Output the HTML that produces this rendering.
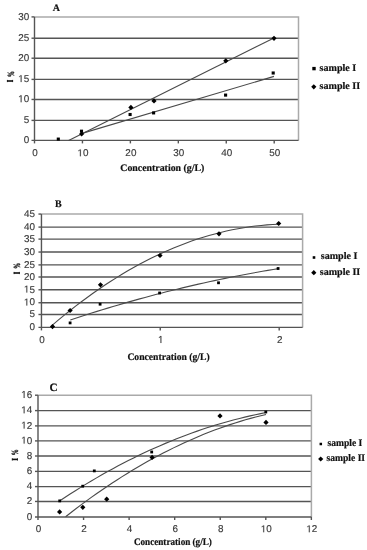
<!DOCTYPE html>
<html><head><meta charset="utf-8"><style>
html,body{margin:0;padding:0;background:#fff;width:367px;height:550px;overflow:hidden}
svg{display:block;will-change:transform}
text{text-rendering:geometricPrecision}
.t{font-family:"Liberation Sans",sans-serif;font-size:9.9px;fill:#3a3a3a;stroke:#3a3a3a;stroke-width:0.15px}
.b{font-family:"Liberation Serif",serif;font-weight:bold;font-size:10px;fill:#111;stroke:#111;stroke-width:0.2px}
</style></head><body>
<svg width="367" height="550" viewBox="0 0 367 550">
<rect width="367" height="550" fill="#fff"/>

<line x1="34.5" y1="120.4" x2="298.5" y2="120.4" stroke="#555" stroke-width="1.4"/>
<line x1="34.5" y1="99.45" x2="298.5" y2="99.45" stroke="#555" stroke-width="1.4"/>
<line x1="34.5" y1="79.4" x2="298.5" y2="79.4" stroke="#555" stroke-width="1.4"/>
<line x1="34.5" y1="58.2" x2="298.5" y2="58.2" stroke="#555" stroke-width="1.4"/>
<line x1="34.5" y1="38.2" x2="298.5" y2="38.2" stroke="#555" stroke-width="1.4"/>
<polyline points="34.5,16.9 298.5,16.9 298.5,140.4" fill="none" stroke="#aaa" stroke-width="1.5"/>
<line x1="34.5" y1="16.9" x2="34.5" y2="143.4" stroke="#555" stroke-width="1.4"/>
<line x1="31.5" y1="140.4" x2="298.5" y2="140.4" stroke="#555" stroke-width="1.4"/>
<text x="23.69" y="143.1" class="t">0</text>
<line x1="31.5" y1="120.4" x2="34.5" y2="120.4" stroke="#555" stroke-width="1.4"/>
<text x="23.69" y="123.1" class="t">5</text>
<line x1="31.5" y1="99.45" x2="34.5" y2="99.45" stroke="#555" stroke-width="1.4"/>
<path transform="translate(18.19,102.15) scale(0.004834,-0.004834)" d="M515 0V1237L197 1010V1180L530 1409H696V0Z" fill="#3a3a3a" stroke="#3a3a3a" stroke-width="31.0"/><text x="23.69" y="102.15" class="t">0</text>
<line x1="31.5" y1="79.4" x2="34.5" y2="79.4" stroke="#555" stroke-width="1.4"/>
<path transform="translate(18.19,82.1) scale(0.004834,-0.004834)" d="M515 0V1237L197 1010V1180L530 1409H696V0Z" fill="#3a3a3a" stroke="#3a3a3a" stroke-width="31.0"/><text x="23.69" y="82.1" class="t">5</text>
<line x1="31.5" y1="58.2" x2="34.5" y2="58.2" stroke="#555" stroke-width="1.4"/>
<text x="18.19" y="60.9" class="t">2</text><text x="23.69" y="60.9" class="t">0</text>
<line x1="31.5" y1="38.2" x2="34.5" y2="38.2" stroke="#555" stroke-width="1.4"/>
<text x="18.19" y="40.9" class="t">2</text><text x="23.69" y="40.9" class="t">5</text>
<line x1="31.5" y1="16.9" x2="34.5" y2="16.9" stroke="#555" stroke-width="1.4"/>
<text x="18.19" y="19.6" class="t">3</text><text x="23.69" y="19.6" class="t">0</text>
<text x="32.25" y="156.2" class="t">0</text>
<line x1="82.44" y1="140.4" x2="82.44" y2="143.4" stroke="#555" stroke-width="1.4"/>
<path transform="translate(77.43,156.2) scale(0.004834,-0.004834)" d="M515 0V1237L197 1010V1180L530 1409H696V0Z" fill="#3a3a3a" stroke="#3a3a3a" stroke-width="31.0"/><text x="82.94" y="156.2" class="t">0</text>
<line x1="130.38" y1="140.4" x2="130.38" y2="143.4" stroke="#555" stroke-width="1.4"/>
<text x="125.37" y="156.2" class="t">2</text><text x="130.88" y="156.2" class="t">0</text>
<line x1="178.32" y1="140.4" x2="178.32" y2="143.4" stroke="#555" stroke-width="1.4"/>
<text x="173.31" y="156.2" class="t">3</text><text x="178.82" y="156.2" class="t">0</text>
<line x1="226.26" y1="140.4" x2="226.26" y2="143.4" stroke="#555" stroke-width="1.4"/>
<text x="221.25" y="156.2" class="t">4</text><text x="226.76" y="156.2" class="t">0</text>
<line x1="274.2" y1="140.4" x2="274.2" y2="143.4" stroke="#555" stroke-width="1.4"/>
<text x="269.19" y="156.2" class="t">5</text><text x="274.7" y="156.2" class="t">0</text>
<text x="52.8" y="10.8" class="b" style="font-size:10px">A</text>
<text x="120.3" y="171.4" class="b" textLength="84" lengthAdjust="spacingAndGlyphs">Concentration (g/L)</text>
<rect x="7.2" y="80.2" width="5.6" height="1.6" fill="#111"/>
<rect x="6.9" y="79.9" width="0.9" height="2.2" fill="#111"/>
<rect x="12.2" y="79.9" width="0.9" height="2.2" fill="#111"/>
<text transform="translate(14,74) rotate(-90) scale(0.62,1)" text-anchor="middle" class="b" style="font-size:9.5px;stroke:#111;stroke-width:0.35px">%</text>
<rect x="312.3" y="66.9" width="3.4" height="3.4" fill="#000"/>
<text x="319.6" y="70.8" class="b" textLength="36.6" lengthAdjust="spacingAndGlyphs">sample I</text>
<path d="M313.8 84.2L316.4 86.8L313.8 89.4L311.2 86.8Z" fill="#000"/>
<text x="319.6" y="88.6" class="b" textLength="40.5" lengthAdjust="spacingAndGlyphs">sample II</text>
<polyline points="81.2,133.6 274,76.4" fill="none" stroke="#4a4a4a" stroke-width="1.1"/>
<polyline points="68.6,140.4 274,38" fill="none" stroke="#4a4a4a" stroke-width="1.1"/>
<rect x="56.75" y="137.55" width="3.1" height="3.1" fill="#000"/>
<rect x="79.95" y="129.65" width="3.1" height="3.1" fill="#000"/>
<rect x="128.55" y="112.95" width="3.1" height="3.1" fill="#000"/>
<rect x="152.05" y="111.35" width="3.1" height="3.1" fill="#000"/>
<rect x="224.05" y="93.55" width="3.1" height="3.1" fill="#000"/>
<rect x="271.65" y="71.45" width="3.1" height="3.1" fill="#000"/>
<path d="M81.6 131.4L84.2 134L81.6 136.6L79 134Z" fill="#000"/>
<path d="M130.9 104.8L133.5 107.4L130.9 110L128.3 107.4Z" fill="#000"/>
<path d="M154 98.3L156.6 100.9L154 103.5L151.4 100.9Z" fill="#000"/>
<path d="M225.8 58.2L228.4 60.8L225.8 63.4L223.2 60.8Z" fill="#000"/>
<path d="M274 35.7L276.6 38.3L274 40.9L271.4 38.3Z" fill="#000"/>
<line x1="41.45" y1="314.5" x2="302.6" y2="314.5" stroke="#555" stroke-width="1.4"/>
<line x1="41.45" y1="302.74" x2="302.6" y2="302.74" stroke="#555" stroke-width="1.4"/>
<line x1="41.45" y1="289.8" x2="302.6" y2="289.8" stroke="#555" stroke-width="1.4"/>
<line x1="41.45" y1="277" x2="302.6" y2="277" stroke="#555" stroke-width="1.4"/>
<line x1="41.45" y1="264.9" x2="302.6" y2="264.9" stroke="#555" stroke-width="1.4"/>
<line x1="41.45" y1="252.04" x2="302.6" y2="252.04" stroke="#555" stroke-width="1.4"/>
<line x1="41.45" y1="239.1" x2="302.6" y2="239.1" stroke="#555" stroke-width="1.4"/>
<line x1="41.45" y1="227.1" x2="302.6" y2="227.1" stroke="#555" stroke-width="1.4"/>
<polyline points="41.45,214.06 302.6,214.06 302.6,327.4" fill="none" stroke="#aaa" stroke-width="1.5"/>
<line x1="41.45" y1="214.06" x2="41.45" y2="330.4" stroke="#555" stroke-width="1.4"/>
<line x1="38.45" y1="327.4" x2="302.6" y2="327.4" stroke="#555" stroke-width="1.4"/>
<text x="29.39" y="330.1" class="t">0</text>
<line x1="38.45" y1="314.5" x2="41.45" y2="314.5" stroke="#555" stroke-width="1.4"/>
<text x="29.39" y="317.2" class="t">5</text>
<line x1="38.45" y1="302.74" x2="41.45" y2="302.74" stroke="#555" stroke-width="1.4"/>
<path transform="translate(23.89,305.44) scale(0.004834,-0.004834)" d="M515 0V1237L197 1010V1180L530 1409H696V0Z" fill="#3a3a3a" stroke="#3a3a3a" stroke-width="31.0"/><text x="29.39" y="305.44" class="t">0</text>
<line x1="38.45" y1="289.8" x2="41.45" y2="289.8" stroke="#555" stroke-width="1.4"/>
<path transform="translate(23.89,292.5) scale(0.004834,-0.004834)" d="M515 0V1237L197 1010V1180L530 1409H696V0Z" fill="#3a3a3a" stroke="#3a3a3a" stroke-width="31.0"/><text x="29.39" y="292.5" class="t">5</text>
<line x1="38.45" y1="277" x2="41.45" y2="277" stroke="#555" stroke-width="1.4"/>
<text x="23.89" y="279.7" class="t">2</text><text x="29.39" y="279.7" class="t">0</text>
<line x1="38.45" y1="264.9" x2="41.45" y2="264.9" stroke="#555" stroke-width="1.4"/>
<text x="23.89" y="267.6" class="t">2</text><text x="29.39" y="267.6" class="t">5</text>
<line x1="38.45" y1="252.04" x2="41.45" y2="252.04" stroke="#555" stroke-width="1.4"/>
<text x="23.89" y="254.74" class="t">3</text><text x="29.39" y="254.74" class="t">0</text>
<line x1="38.45" y1="239.1" x2="41.45" y2="239.1" stroke="#555" stroke-width="1.4"/>
<text x="23.89" y="241.8" class="t">3</text><text x="29.39" y="241.8" class="t">5</text>
<line x1="38.45" y1="227.1" x2="41.45" y2="227.1" stroke="#555" stroke-width="1.4"/>
<text x="23.89" y="229.8" class="t">4</text><text x="29.39" y="229.8" class="t">0</text>
<line x1="38.45" y1="214.06" x2="41.45" y2="214.06" stroke="#555" stroke-width="1.4"/>
<text x="23.89" y="216.76" class="t">4</text><text x="29.39" y="216.76" class="t">5</text>
<text x="39.2" y="342.9" class="t">0</text>
<line x1="160.25" y1="327.4" x2="160.25" y2="330.4" stroke="#555" stroke-width="1.4"/>
<path transform="translate(158,342.9) scale(0.004834,-0.004834)" d="M515 0V1237L197 1010V1180L530 1409H696V0Z" fill="#3a3a3a" stroke="#3a3a3a" stroke-width="31.0"/>
<line x1="279.2" y1="327.4" x2="279.2" y2="330.4" stroke="#555" stroke-width="1.4"/>
<text x="276.95" y="342.9" class="t">2</text>
<text x="55" y="206.9" class="b" style="font-size:10px">B</text>
<text x="127.4" y="359.6" class="b" textLength="82.3" lengthAdjust="spacingAndGlyphs">Concentration (g/L)</text>
<rect x="13.9" y="272.2" width="5.6" height="1.6" fill="#111"/>
<rect x="13.6" y="271.9" width="0.9" height="2.2" fill="#111"/>
<rect x="18.9" y="271.9" width="0.9" height="2.2" fill="#111"/>
<text transform="translate(19.9,265.7) rotate(-90) scale(0.62,1)" text-anchor="middle" class="b" style="font-size:9.5px;stroke:#111;stroke-width:0.35px">%</text>
<rect x="312.7" y="256.2" width="2.6" height="2.6" fill="#000"/>
<text x="320.8" y="259.4" class="b" textLength="36.6" lengthAdjust="spacingAndGlyphs">sample I</text>
<path d="M313.8 270.1L316.4 272.7L313.8 275.3L311.2 272.7Z" fill="#000"/>
<text x="319.8" y="274.5" class="b" textLength="40.5" lengthAdjust="spacingAndGlyphs">sample II</text>
<polyline points="70.3,319.96 75.64,318.2 80.98,316.46 86.32,314.74 91.65,313.05 96.99,311.38 102.33,309.73 107.67,308.11 113.01,306.51 118.35,304.93 123.68,303.38 129.02,301.85 134.36,300.35 139.7,298.87 145.04,297.41 150.38,295.98 155.72,294.57 161.05,293.18 166.39,291.82 171.73,290.48 177.07,289.16 182.41,287.87 187.75,286.6 193.08,285.35 198.42,284.13 203.76,282.93 209.1,281.76 214.44,280.6 219.78,279.48 225.12,278.37 230.45,277.29 235.79,276.23 241.13,275.2 246.47,274.19 251.81,273.2 257.15,272.24 262.48,271.3 267.82,270.38 273.16,269.49 278.5,268.62" fill="none" stroke="#4a4a4a" stroke-width="1.1"/>
<polyline points="52.4,325.05 58.2,320.15 64,315.37 69.8,310.71 75.6,306.18 81.4,301.76 87.2,297.47 93,293.3 98.8,289.25 104.6,285.33 110.4,281.52 116.2,277.84 122,274.28 127.8,270.84 133.6,267.53 139.4,264.33 145.2,261.26 151,258.31 156.8,255.48 162.6,252.77 168.4,250.19 174.2,247.73 180,245.39 185.8,243.17 191.6,241.07 197.4,239.1 203.2,237.25 209,235.52 214.8,233.91 220.6,232.42 226.4,231.06 232.2,229.81 238,228.69 243.8,227.7 249.6,226.82 255.4,226.07 261.2,225.43 267,224.92 272.8,224.53 278.6,224.27" fill="none" stroke="#4a4a4a" stroke-width="1.1"/>
<rect x="68.7" y="321.5" width="2.8" height="2.8" fill="#000"/>
<rect x="98.7" y="302.8" width="2.8" height="2.8" fill="#000"/>
<rect x="158.2" y="291.6" width="2.8" height="2.8" fill="#000"/>
<rect x="217.1" y="281.4" width="2.8" height="2.8" fill="#000"/>
<rect x="276.7" y="267.1" width="2.8" height="2.8" fill="#000"/>
<path d="M52.5 324L55.1 326.6L52.5 329.2L49.9 326.6Z" fill="#000"/>
<path d="M70.1 307.9L72.7 310.5L70.1 313.1L67.5 310.5Z" fill="#000"/>
<path d="M100.5 282.2L103.1 284.8L100.5 287.4L97.9 284.8Z" fill="#000"/>
<path d="M160 252.9L162.6 255.5L160 258.1L157.4 255.5Z" fill="#000"/>
<path d="M219 231.2L221.6 233.8L219 236.4L216.4 233.8Z" fill="#000"/>
<path d="M278.7 220.9L281.3 223.5L278.7 226.1L276.1 223.5Z" fill="#000"/>
<line x1="38" y1="501.45" x2="311.4" y2="501.45" stroke="#555" stroke-width="1.4"/>
<line x1="38" y1="486.6" x2="311.4" y2="486.6" stroke="#555" stroke-width="1.4"/>
<line x1="38" y1="471.4" x2="311.4" y2="471.4" stroke="#555" stroke-width="1.4"/>
<line x1="38" y1="456" x2="311.4" y2="456" stroke="#555" stroke-width="1.4"/>
<line x1="38" y1="440.9" x2="311.4" y2="440.9" stroke="#555" stroke-width="1.4"/>
<line x1="38" y1="425.9" x2="311.4" y2="425.9" stroke="#555" stroke-width="1.4"/>
<line x1="38" y1="410.6" x2="311.4" y2="410.6" stroke="#555" stroke-width="1.4"/>
<polyline points="38,395.2 311.4,395.2 311.4,517" fill="none" stroke="#aaa" stroke-width="1.5"/>
<line x1="38" y1="395.2" x2="38" y2="520" stroke="#555" stroke-width="1.4"/>
<line x1="35" y1="517" x2="311.4" y2="517" stroke="#555" stroke-width="1.4"/>
<text x="26.69" y="519.7" class="t">0</text>
<line x1="35" y1="501.45" x2="38" y2="501.45" stroke="#555" stroke-width="1.4"/>
<text x="26.69" y="504.15" class="t">2</text>
<line x1="35" y1="486.6" x2="38" y2="486.6" stroke="#555" stroke-width="1.4"/>
<text x="26.69" y="489.3" class="t">4</text>
<line x1="35" y1="471.4" x2="38" y2="471.4" stroke="#555" stroke-width="1.4"/>
<text x="26.69" y="474.1" class="t">6</text>
<line x1="35" y1="456" x2="38" y2="456" stroke="#555" stroke-width="1.4"/>
<text x="26.69" y="458.7" class="t">8</text>
<line x1="35" y1="440.9" x2="38" y2="440.9" stroke="#555" stroke-width="1.4"/>
<path transform="translate(21.19,443.6) scale(0.004834,-0.004834)" d="M515 0V1237L197 1010V1180L530 1409H696V0Z" fill="#3a3a3a" stroke="#3a3a3a" stroke-width="31.0"/><text x="26.69" y="443.6" class="t">0</text>
<line x1="35" y1="425.9" x2="38" y2="425.9" stroke="#555" stroke-width="1.4"/>
<path transform="translate(21.19,428.6) scale(0.004834,-0.004834)" d="M515 0V1237L197 1010V1180L530 1409H696V0Z" fill="#3a3a3a" stroke="#3a3a3a" stroke-width="31.0"/><text x="26.69" y="428.6" class="t">2</text>
<line x1="35" y1="410.6" x2="38" y2="410.6" stroke="#555" stroke-width="1.4"/>
<path transform="translate(21.19,413.3) scale(0.004834,-0.004834)" d="M515 0V1237L197 1010V1180L530 1409H696V0Z" fill="#3a3a3a" stroke="#3a3a3a" stroke-width="31.0"/><text x="26.69" y="413.3" class="t">4</text>
<line x1="35" y1="395.2" x2="38" y2="395.2" stroke="#555" stroke-width="1.4"/>
<path transform="translate(21.19,397.9) scale(0.004834,-0.004834)" d="M515 0V1237L197 1010V1180L530 1409H696V0Z" fill="#3a3a3a" stroke="#3a3a3a" stroke-width="31.0"/><text x="26.69" y="397.9" class="t">6</text>
<text x="35.75" y="532.2" class="t">0</text>
<line x1="83.56" y1="517" x2="83.56" y2="520" stroke="#555" stroke-width="1.4"/>
<text x="81.31" y="532.2" class="t">2</text>
<line x1="129.12" y1="517" x2="129.12" y2="520" stroke="#555" stroke-width="1.4"/>
<text x="126.87" y="532.2" class="t">4</text>
<line x1="174.68" y1="517" x2="174.68" y2="520" stroke="#555" stroke-width="1.4"/>
<text x="172.43" y="532.2" class="t">6</text>
<line x1="220.24" y1="517" x2="220.24" y2="520" stroke="#555" stroke-width="1.4"/>
<text x="217.99" y="532.2" class="t">8</text>
<line x1="265.8" y1="517" x2="265.8" y2="520" stroke="#555" stroke-width="1.4"/>
<path transform="translate(260.79,532.2) scale(0.004834,-0.004834)" d="M515 0V1237L197 1010V1180L530 1409H696V0Z" fill="#3a3a3a" stroke="#3a3a3a" stroke-width="31.0"/><text x="266.3" y="532.2" class="t">0</text>
<line x1="311.36" y1="517" x2="311.36" y2="520" stroke="#555" stroke-width="1.4"/>
<path transform="translate(306.35,532.2) scale(0.004834,-0.004834)" d="M515 0V1237L197 1010V1180L530 1409H696V0Z" fill="#3a3a3a" stroke="#3a3a3a" stroke-width="31.0"/><text x="311.86" y="532.2" class="t">2</text>
<text x="49.5" y="391.3" class="b" style="font-size:11.2px">C</text>
<text x="133.9" y="544.7" class="b" textLength="78" lengthAdjust="spacingAndGlyphs">Concentration (g/L)</text>
<rect x="12.1" y="458.6" width="5.6" height="1.6" fill="#111"/>
<rect x="11.8" y="458.3" width="0.9" height="2.2" fill="#111"/>
<rect x="17.1" y="458.3" width="0.9" height="2.2" fill="#111"/>
<text transform="translate(18,452.2) rotate(-90) scale(0.62,1)" text-anchor="middle" class="b" style="font-size:9.5px;stroke:#111;stroke-width:0.35px">%</text>
<rect x="319.55" y="442.75" width="2.5" height="2.5" fill="#000"/>
<text x="327.5" y="445.8" class="b" textLength="34.8" lengthAdjust="spacingAndGlyphs">sample I</text>
<path d="M320.7 456.4L323.3 459L320.7 461.6L318.1 459Z" fill="#000"/>
<text x="326.5" y="461.2" class="b" textLength="38.6" lengthAdjust="spacingAndGlyphs">sample II</text>
<polyline points="59.5,500.96 64.79,497.47 70.09,494.04 75.38,490.68 80.68,487.38 85.97,484.14 91.27,480.97 96.56,477.87 101.86,474.83 107.15,471.85 112.45,468.94 117.74,466.09 123.04,463.31 128.33,460.59 133.63,457.94 138.92,455.35 144.22,452.83 149.51,450.37 154.81,447.97 160.1,445.64 165.4,443.37 170.69,441.17 175.99,439.03 181.28,436.96 186.58,434.95 191.87,433.01 197.17,431.13 202.46,429.31 207.76,427.56 213.05,425.87 218.35,424.25 223.64,422.7 228.94,421.2 234.23,419.77 239.53,418.41 244.82,417.11 250.12,415.88 255.41,414.71 260.71,413.6 266,412.56" fill="none" stroke="#4a4a4a" stroke-width="1.1"/>
<polyline points="65.6,516.71 70.74,512.7 75.88,508.77 81.02,504.91 86.15,501.12 91.29,497.4 96.43,493.76 101.57,490.19 106.71,486.7 111.85,483.27 116.98,479.92 122.12,476.65 127.26,473.44 132.4,470.31 137.54,467.25 142.68,464.26 147.82,461.35 152.95,458.51 158.09,455.74 163.23,453.05 168.37,450.42 173.51,447.87 178.65,445.4 183.78,442.99 188.92,440.66 194.06,438.41 199.2,436.22 204.34,434.11 209.48,432.07 214.62,430.1 219.75,428.21 224.89,426.39 230.03,424.64 235.17,422.96 240.31,421.36 245.45,419.83 250.58,418.37 255.72,416.99 260.86,415.68 266,414.44" fill="none" stroke="#4a4a4a" stroke-width="1.1"/>
<rect x="58.3" y="499.5" width="2.8" height="2.8" fill="#000"/>
<rect x="81.3" y="484.8" width="2.8" height="2.8" fill="#000"/>
<rect x="92.9" y="469.5" width="2.8" height="2.8" fill="#000"/>
<rect x="150.3" y="450.6" width="2.8" height="2.8" fill="#000"/>
<rect x="264.4" y="410.6" width="2.8" height="2.8" fill="#000"/>
<path d="M59.6 509.3L62.2 511.9L59.6 514.5L57 511.9Z" fill="#000"/>
<path d="M82.8 504.7L85.4 507.3L82.8 509.9L80.2 507.3Z" fill="#000"/>
<path d="M106.7 496.6L109.3 499.2L106.7 501.8L104.1 499.2Z" fill="#000"/>
<path d="M152.1 454.8L154.7 457.4L152.1 460L149.5 457.4Z" fill="#000"/>
<path d="M220 413.3L222.6 415.9L220 418.5L217.4 415.9Z" fill="#000"/>
<path d="M266 419.8L268.6 422.4L266 425L263.4 422.4Z" fill="#000"/>

</svg>
</body></html>
